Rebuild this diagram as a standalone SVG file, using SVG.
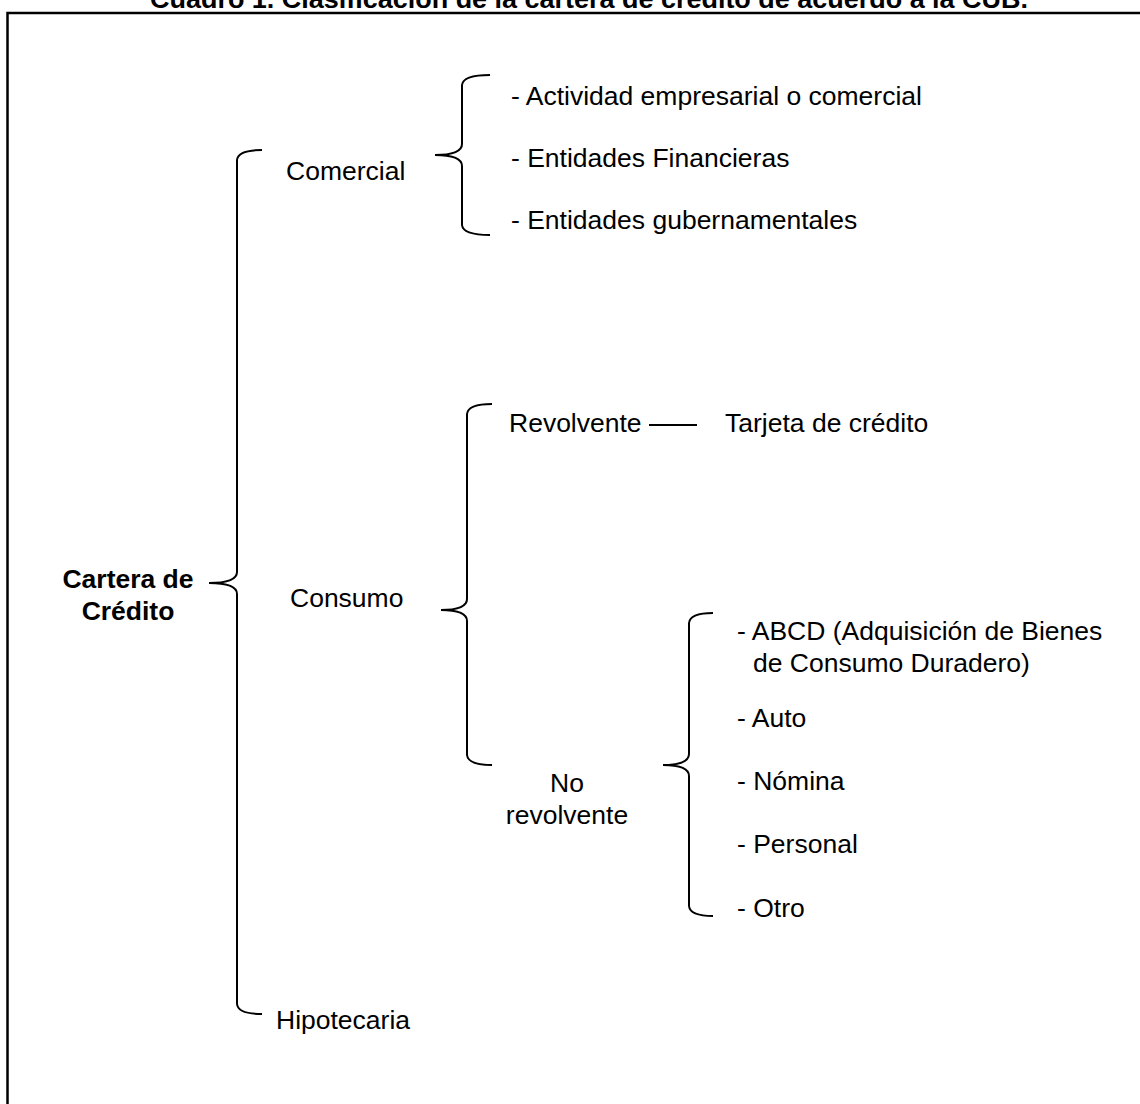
<svg xmlns="http://www.w3.org/2000/svg" width="1140" height="1104" viewBox="0 0 1140 1104">
<style>
.t{font-family:"Liberation Sans",Arial,sans-serif;font-size:26.5px;fill:#000}
.b{font-weight:bold}
.br{fill:none;stroke:#000;stroke-width:2}
</style>
<rect x="0" y="0" width="1140" height="1104" fill="#fff"/>
<text class="t b" x="589" y="8" text-anchor="middle" textLength="878" lengthAdjust="spacingAndGlyphs">Cuadro 1. Clasificación de la cartera de crédito de acuerdo a la CUB.</text>
<path d="M7.5 1110 V13 H1145" fill="none" stroke="#000" stroke-width="2.5"/>
<g id="connectors">
<path class="br" d="M262 150 Q238 150 237 160 V572 Q237 583 209 583 Q237 583 237 594 V1004 Q238 1014 262 1014"/>
<path class="br" d="M490 75 Q463 75 462 85 V144 Q462 155 435 155 Q462 155 462 166 V225 Q463 235 490 235"/>
<path class="br" d="M492 404 Q468 404 467 414 V599 Q467 610 441 610 Q467 610 467 621 V755 Q468 765 492 765"/>
<path class="br" d="M713 613 Q690 613 689 623 V754 Q689 765 663 765 Q689 765 689 776 V906 Q690 916 713 916"/>
<line x1="649" y1="425" x2="697" y2="425" stroke="#000" stroke-width="2"/>
</g>
<g id="root"><text class="t b" x="128" y="588" text-anchor="middle">Cartera de</text><text class="t b" x="128" y="620" text-anchor="middle">Crédito</text></g>
<g id="comercial"><text class="t" x="286" y="180">Comercial</text></g>
<g id="comercial-items">
<text class="t" x="511" y="105">- Actividad empresarial o comercial</text>
<text class="t" x="511" y="167">- Entidades Financieras</text>
<text class="t" x="511" y="229">- Entidades gubernamentales</text>
</g>
<g id="consumo"><text class="t" x="290" y="607">Consumo</text></g>
<g id="revolvente"><text class="t" x="509" y="432">Revolvente</text></g>
<g id="tarjeta"><text class="t" x="725" y="432">Tarjeta de crédito</text></g>
<g id="norevolvente"><text class="t" x="567" y="792" text-anchor="middle">No</text><text class="t" x="567" y="824" text-anchor="middle">revolvente</text></g>
<g id="norev-items">
<text class="t" x="737" y="640">- ABCD (Adquisición de Bienes</text>
<text class="t" x="753" y="672">de Consumo Duradero)</text>
<text class="t" x="737" y="727">- Auto</text>
<text class="t" x="737" y="790">- Nómina</text>
<text class="t" x="737" y="853">- Personal</text>
<text class="t" x="737" y="917">- Otro</text>
</g>
<g id="hipotecaria"><text class="t" x="276" y="1029">Hipotecaria</text></g>
</svg>
